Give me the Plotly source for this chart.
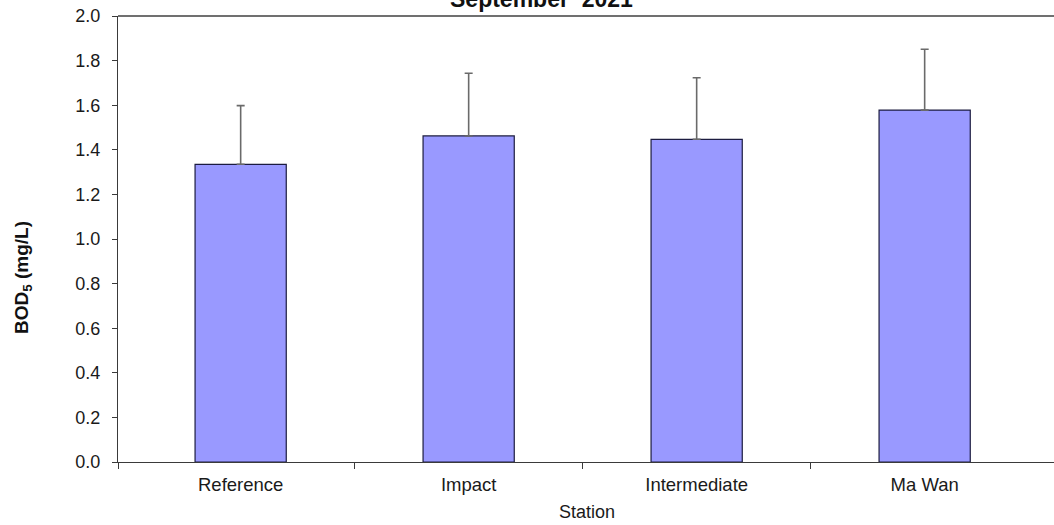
import plotly.graph_objects as go

# Station means and standard deviations of BOD5, September 2021
stations = ["Reference", "Impact", "Intermediate", "Ma Wan"]
bod5_mean = [1.335, 1.462, 1.447, 1.578]
bod5_sd = [0.263, 0.281, 0.276, 0.273]
y_ticks = [0.0, 0.2, 0.4, 0.6, 0.8, 1.0, 1.2, 1.4, 1.6, 1.8, 2.0]

W, H = 1054, 525
L, R, T, B = 118, 0, 16, 63
plot_w = W - L - R
plot_h = H - T - B


def px_x(px):
    return (px - L) / plot_w


def px_y(py):
    return (H - B - py) / plot_h


FONT = "Arial, Liberation Sans, sans-serif"
AXIS = "#3a3a3a"

xpos = list(range(len(stations)))
x_start = -0.538
x_end = x_start + plot_w / 228

fig = go.Figure(
    go.Bar(
        x=xpos,
        y=bod5_mean,
        width=0.4,
        marker=dict(color="#9999FF", line=dict(color="#1c1c40", width=1.2)),
        error_y=dict(
            type="data",
            symmetric=False,
            array=bod5_sd,
            arrayminus=[0] * len(bod5_sd),
            color="#6a6a6a",
            thickness=1.6,
            width=4,
        ),
    )
)

fig.update_layout(
    width=W,
    height=H,
    margin=dict(l=L, r=R, t=T, b=B),
    paper_bgcolor="white",
    plot_bgcolor="white",
    showlegend=False,
    font=dict(family=FONT, size=18, color="#1a1a1a"),
    xaxis=dict(
        range=[x_start, x_end],
        tickmode="array",
        tickvals=xpos,
        ticktext=stations,
        ticks="",
        tickfont=dict(size=18.5),
        showgrid=False,
        zeroline=False,
        showline=True,
        linecolor=AXIS,
        linewidth=1.3,
        ticklabelstandoff=6,
        minor=dict(
            tickmode="array",
            tickvals=[x_start, 0.5, 1.5, 2.5],
            ticks="outside",
            ticklen=6,
            tickcolor=AXIS,
            tickwidth=1.3,
            showgrid=False,
        ),
    ),
    yaxis=dict(
        range=[0, 2.0],
        tickmode="array",
        tickvals=y_ticks,
        tickformat=".1f",
        ticks="outside",
        ticklen=5,
        tickwidth=1.3,
        tickcolor=AXIS,
        tickfont=dict(size=18),
        showgrid=False,
        zeroline=False,
        showline=True,
        linecolor=AXIS,
        linewidth=1.3,
        ticklabelstandoff=8,
    ),
    shapes=[
        dict(
            type="line",
            xref="paper",
            yref="paper",
            x0=0,
            x1=1,
            y0=1,
            y1=1,
            line=dict(color="#707070", width=2),
        )
    ],
    annotations=[
        dict(
            text="<b>September  2021</b>",
            x=px_x(541),
            y=px_y(14),
            xref="paper",
            yref="paper",
            xanchor="center",
            yanchor="bottom",
            showarrow=False,
            font=dict(size=23, color="#111111"),
        ),
        dict(
            text="<b>BOD<sub>5</sub> (mg/L)</b>",
            x=px_x(23),
            y=px_y(278),
            xref="paper",
            yref="paper",
            xanchor="center",
            yanchor="middle",
            textangle=-90,
            showarrow=False,
            font=dict(size=19, color="#111111"),
        ),
        dict(
            text="Station",
            x=px_x(587),
            y=px_y(512),
            xref="paper",
            yref="paper",
            xanchor="center",
            yanchor="middle",
            showarrow=False,
            font=dict(size=18, color="#1a1a1a"),
        ),
    ],
)

fig.write_html("out.html")
